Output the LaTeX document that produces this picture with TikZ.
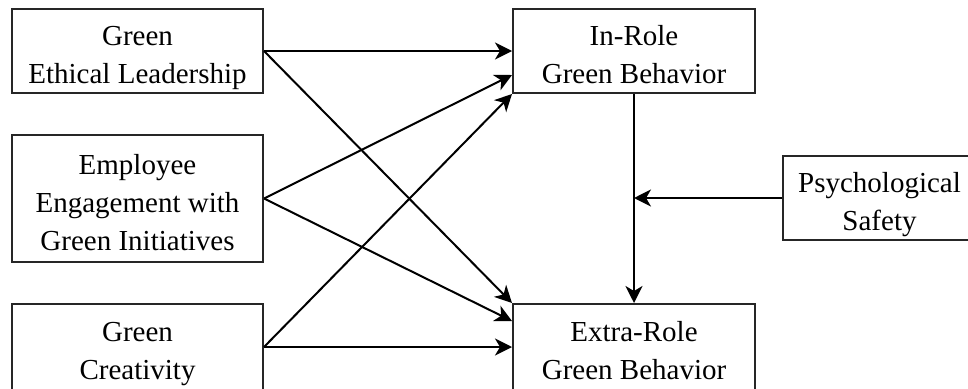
\documentclass[tikz,border=0pt]{standalone}
\usepackage{fontspec}
\setmainfont{Liberation Serif}
\usetikzlibrary{arrows.meta,calc}
\newcommand\boxlines[1]{\raisebox{-6pt}[\height][\depth]{\begin{tabular}{@{}c@{}}#1\end{tabular}}}
\begin{document}
\begin{tikzpicture}[x=1pt,y=-1pt,
  box/.style={draw=black!85,line width=2pt,rectangle,align=center,inner sep=0pt,
    font=\fontsize{29}{38}\selectfont},
  conn/.style={line width=2pt,draw=black,-{Stealth[length=17pt,width=17pt,inset=5pt]}}]
\useasboundingbox (0,0) rectangle (968,388);
\node[box,minimum width=251pt,minimum height=84pt] (b1) at (137.5,51) {\boxlines{Green\\Ethical Leadership}};
\node[box,minimum width=251pt,minimum height=127pt] (b2) at (137.5,198.5) {\boxlines{Employee\\Engagement with\\Green Initiatives}};
\node[box,minimum width=251pt,minimum height=86pt] (b3) at (137.5,347) {\boxlines{Green\\Creativity}};
\node[box,minimum width=242pt,minimum height=84pt] (ir) at (634,51) {\boxlines{In-Role\\Green Behavior}};
\node[box,minimum width=242pt,minimum height=86pt] (er) at (634,347) {\boxlines{Extra-Role\\Green Behavior}};
\node[box,minimum width=193pt,minimum height=84pt] (ps) at (879.5,198) {\boxlines{Psychological\\Safety}};
\coordinate (ir2) at ($(ir.west)+(0,24)$);
\coordinate (er2) at ($(er.north west)+(0,18)$);
\coordinate (mid) at (ir.south |- ps.west);
\draw[conn] (b1.east) -- (ir.west);
\draw[conn] (b1.east) -- (er.north west);
\draw[conn] (b2.east) -- (ir2);
\draw[conn] (b2.east) -- (er2);
\draw[conn] (b3.east) -- (ir.south west);
\draw[conn] (b3.east) -- (er.west);
\draw[conn] (ir.south) -- (er.north);
\draw[conn] (ps.west) -- (mid);
\end{tikzpicture}
\end{document}
